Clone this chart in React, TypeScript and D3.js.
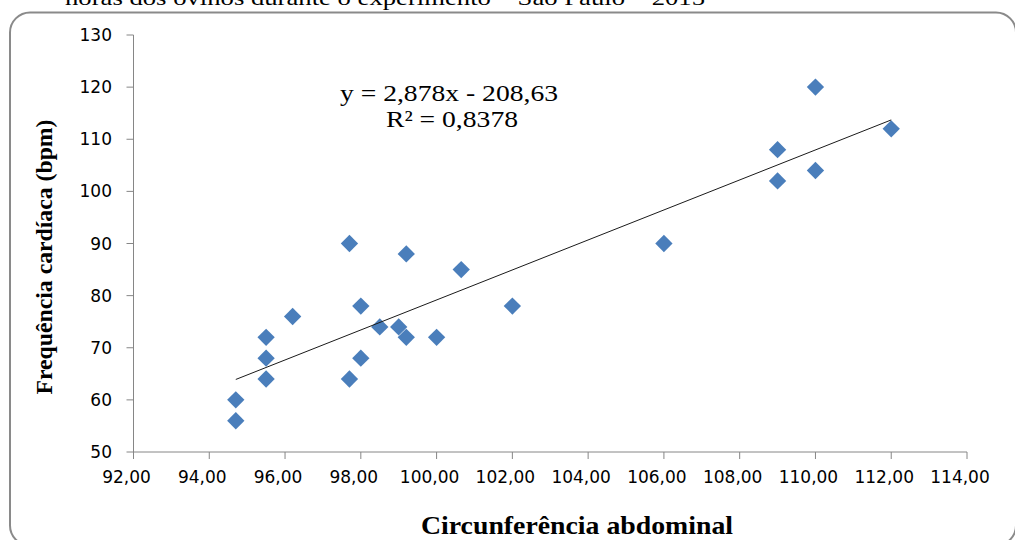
import React from "react";
import * as d3 from "d3";

const circunferencia: number[] = [
  94.7, 94.7, 95.5, 95.5, 95.5, 96.2, 97.7, 97.7, 98.0, 98.0, 98.5, 99.0,
  99.2, 99.2, 100.0, 100.65, 102.0, 106.0, 109.0, 109.0, 110.0, 110.0, 112.0,
];
const frequencia: number[] = [
  56, 60, 64, 68, 72, 76, 90, 64, 78, 68, 74, 74,
  72, 88, 72, 85, 78, 90, 108, 102, 120, 104, 112,
];
const xTicks: number[] = [92, 94, 96, 98, 100, 102, 104, 106, 108, 110, 112, 114];
const yTicks: number[] = [50, 60, 70, 80, 90, 100, 110, 120, 130];
const slope = 2.878;
const intercept = -208.63;
const equationText = "y = 2,878x - 208,63";
const r2Text = "R² = 0,8378";
const yTitle = "Frequência cardíaca (bpm)";
const xTitle = "Circunferência abdominal";
const topText = "horas dos ovinos durante o experimento – São Paulo – 2015";

const W = 1015;
const H = 540;

export default function App() {
  const x = d3.scaleLinear().domain([92, 114]).range([133.5, 967]);
  const y = d3.scaleLinear().domain([50, 130]).range([452, 35]);
  const xMin = d3.min(circunferencia) as number;
  const xMax = d3.max(circunferencia) as number;
  const trend = d3
    .line<number>()
    .x((d) => x(d))
    .y((d) => y(slope * d + intercept));
  const diamond = d3.symbol().type(d3.symbolSquare).size(150)() as string;
  const axisColor = "#868686";
  const sans = "'DejaVu Sans', sans-serif";
  const serif = "'Liberation Serif', 'Times New Roman', serif";
  const fmt = (v: number) => v.toFixed(2).replace(".", ",");

  return (
    <svg
      width={W}
      height={H}
      style={{ position: "absolute", left: 0, top: 0, background: "#fff" }}
    >
      <rect x={0} y={0} width={W} height={H} fill="#fff" />
      <text
        x={65}
        y={5}
        fontFamily={serif}
        fontSize={22}
        fill="#000"
        textLength={640}
        lengthAdjust="spacingAndGlyphs"
      >
        {topText}
      </text>
      <rect
        x={10}
        y={12.5}
        width={1006}
        height={533}
        rx={20}
        ry={20}
        fill="none"
        stroke="#8a8a8a"
        strokeWidth={2}
      />
      {/* y axis */}
      <line x1={x(92)} x2={x(92)} y1={y(130)} y2={y(50)} stroke={axisColor} strokeWidth={1} />
      {yTicks.map((t) => (
        <g key={"y" + t}>
          <line x1={x(92) - 7} x2={x(92)} y1={y(t)} y2={y(t)} stroke={axisColor} strokeWidth={1} />
          <text
            x={112}
            y={y(t)}
            textAnchor="end"
            dominantBaseline="central"
            fontFamily={sans}
            fontSize={17}
            fill="#000"
          >
            {t}
          </text>
        </g>
      ))}
      {/* x axis */}
      <line x1={x(92)} x2={x(114)} y1={y(50)} y2={y(50)} stroke={axisColor} strokeWidth={1} />
      {xTicks.map((t) => (
        <g key={"x" + t}>
          <line x1={x(t)} x2={x(t)} y1={y(50)} y2={y(50) + 7} stroke={axisColor} strokeWidth={1} />
          <text
            x={x(t) - 7}
            y={483}
            textAnchor="middle"
            fontFamily={sans}
            fontSize={17}
            fill="#000"
          >
            {fmt(t)}
          </text>
        </g>
      ))}
      {/* points */}
      {circunferencia.map((cx, i) => (
        <path
          key={"p" + i}
          d={diamond}
          transform={`translate(${x(cx)},${y(frequencia[i])}) rotate(45)`}
          fill="#4A7EBB"
        />
      ))}
      {/* trend line */}
      <path d={trend([xMin, xMax]) as string} fill="none" stroke="#1a1a1a" strokeWidth={1} />
      {/* equation */}
      <text
        x={449}
        y={101}
        textAnchor="middle"
        fontFamily={serif}
        fontSize={23}
        fill="#000"
        textLength={218}
        lengthAdjust="spacingAndGlyphs"
      >
        {equationText}
      </text>
      <text
        x={452}
        y={127}
        textAnchor="middle"
        fontFamily={serif}
        fontSize={23}
        fill="#000"
        textLength={132}
        lengthAdjust="spacingAndGlyphs"
      >
        {r2Text}
      </text>
      {/* titles */}
      <text
        transform={`translate(52,257) rotate(-90)`}
        textAnchor="middle"
        fontFamily={serif}
        fontWeight="bold"
        fontSize={23}
        fill="#000"
        textLength={275}
        lengthAdjust="spacingAndGlyphs"
      >
        {yTitle}
      </text>
      <text
        x={577}
        y={534}
        textAnchor="middle"
        fontFamily={serif}
        fontWeight="bold"
        fontSize={25}
        fill="#000"
        textLength={312}
        lengthAdjust="spacingAndGlyphs"
      >
        {xTitle}
      </text>
    </svg>
  );
}
